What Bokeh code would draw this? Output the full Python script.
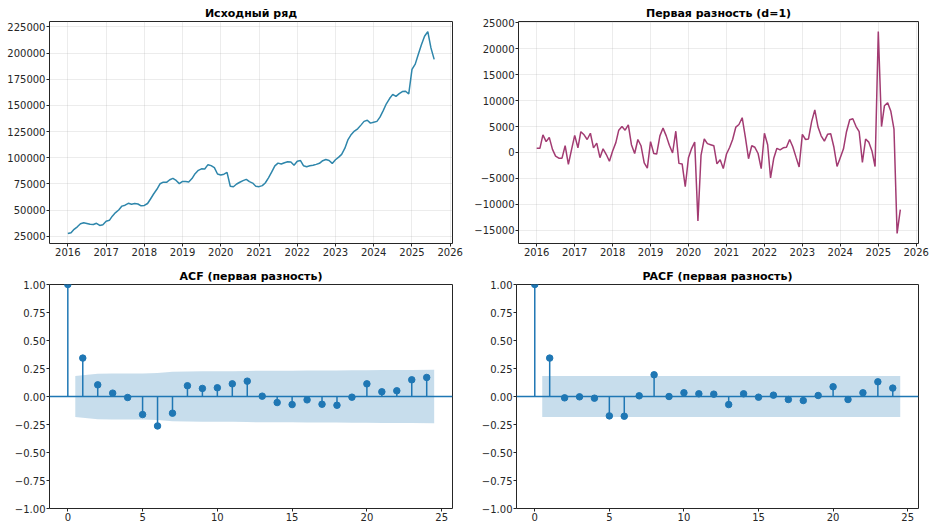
import numpy as np
import pandas as pd
from bokeh.plotting import figure
from bokeh.layouts import column, row
from bokeh.models import Range1d, FixedTicker, DatetimeTickFormatter, CustomJSTickFormatter, Span
from bokeh.embed import file_html
from bokeh.resources import INLINE

# ---------------- data ----------------
start_month = "2016-01-01"
n_months = 116

level = [
    27700, 28400, 31600, 34000, 36900, 37800, 37200, 36500, 36200, 37400, 35300, 36000,
    39300, 40200, 44200, 47600, 50100, 53800, 54700, 56500, 55500, 56200, 55800, 54100,
    54400, 56300, 60600, 65600, 69900, 75200, 76700, 76500, 79000, 80300, 78300, 75300,
    77400, 77200, 76900, 80100, 84800, 88000, 89400, 89300, 93400, 92500, 90500, 84500,
    83500, 84300, 86000, 72800, 72300, 74900, 76600, 78100, 79400, 77200, 75800, 72700,
    72400, 73400, 75900, 80800, 86200, 92300, 94900, 94000, 95300, 96200, 96000, 92900,
    96600, 97300, 92400, 91500, 92300, 92800, 93700, 94700, 97200, 98300, 97400, 94600,
    98100, 100600, 103200, 109200, 117400, 122300, 125500, 127700, 131200, 134800, 135800, 133100,
    134000, 134800, 138800, 145100, 151600, 156600, 160600, 158700, 161300, 163300, 163600, 161000,
    184500, 189500, 198500, 208100, 216100, 220600, 205000, 194000,
]

diff1 = [
    800, 800, 3400, 2100, 2900, 600, -700, -1100, -1100, 1300, -2300, 500,
    3300, 900, 4000, 3400, 2500, 3700, 900, 1800, -1000, 700, -400, -1700,
    300, 1900, 4300, 5000, 4300, 5300, 1500, -200, 2500, 1300, -2000, -3000,
    2100, -200, -300, 3200, 4700, 3200, 1400, -100, 4100, -2100, -2200, -6600,
    -1000, 800, 2000, -13200, -500, 2600, 1700, 1500, 1300, -2200, -1400, -3100,
    -300, 1000, 2500, 4900, 5400, 6700, 3000, -1200, 1300, 1000, -200, -3100,
    3700, 1500, -4900, -1100, 800, 500, 900, 1000, 2500, 1100, -900, -2800,
    3500, 2500, 2600, 6000, 8200, 4900, 3200, 2200, 3500, 3600, 1000, -2700,
    -1000, 700, 4000, 6300, 6500, 5000, 4000, -1900, 2600, 2000, 300, -2700,
    23300, 5000, 9000, 9600, 8000, 4500, -15600, -11000,
]

lags = list(range(25))
acf_vals = [1.0, 0.343, 0.104, 0.030, -0.009, -0.161, -0.263, -0.149, 0.096, 0.072,
            0.078, 0.113, 0.137, 0.003, -0.054, -0.072, -0.030, -0.069, -0.078, -0.006,
            0.113, 0.042, 0.051, 0.149, 0.170]
acf_band = [0.183, 0.203, 0.205, 0.205, 0.205, 0.209, 0.220, 0.223, 0.225, 0.226,
            0.226, 0.228, 0.231, 0.231, 0.231, 0.232, 0.232, 0.233, 0.234, 0.234,
            0.236, 0.236, 0.236, 0.239]
pacf_vals = [1.0, 0.343, -0.012, -0.003, -0.015, -0.173, -0.176, 0.006, 0.194, 0.000,
             0.033, 0.024, 0.021, -0.072, 0.024, -0.006, 0.012, -0.027, -0.036, 0.009,
             0.087, -0.027, 0.033, 0.131, 0.075]
pacf_band = [0.182] * 24

year_ticks = list(range(2016, 2027))
level_ticks = list(range(25000, 225001, 25000))
diff_ticks = list(range(-15000, 25001, 5000))
lag_ticks = [0, 5, 10, 15, 20, 25]
corr_ticks = [-1.0, -0.75, -0.5, -0.25, 0.0, 0.25, 0.5, 0.75, 1.0]

titles = ["Исходный ряд", "Первая разность (d=1)", "ACF (первая разность)", "PACF (первая разность)"]

# ---------------- style ----------------
FONT = "DejaVu Sans"
DARK = "#262626"
C_LEVEL = "#2E86AB"
C_DIFF = "#A23B72"
C0 = "#1f77b4"

int_fmt = CustomJSTickFormatter(code="""
    return (tick < 0 ? '\u2212' : '') + Math.abs(tick).toFixed(0);
""")
dec_fmt = CustomJSTickFormatter(code="""
    return (tick < -1e-9 ? '\u2212' : '') + Math.abs(tick).toFixed(2);
""")
year_fmt = DatetimeTickFormatter(
    years="%Y", months="%Y", days="%Y", hours="%Y", minutes="%Y",
    hourmin="%Y", seconds="%Y", minsec="%Y", milliseconds="%Y", microseconds="%Y")


def make_fig(title, w, h, bl, br, bt, bb, x_range, y_range, grid):
    p = figure(width=w, height=h, x_range=x_range, y_range=y_range,
               output_backend="svg", toolbar_location=None,
               min_border_left=bl, min_border_right=br, min_border_top=bt, min_border_bottom=bb)
    p.title.text = title
    p.title.align = "center"
    p.title.text_font = FONT
    p.title.text_font_size = "11px"
    p.title.text_font_style = "bold"
    p.title.text_color = "#000000"
    p.title.standoff = 4
    p.outline_line_color = DARK
    p.outline_line_width = 1
    p.background_fill_color = "white"
    p.border_fill_color = "white"
    for ax in (p.xaxis[0], p.yaxis[0]):
        ax.axis_line_color = None
        ax.major_tick_out = 3
        ax.major_tick_in = 0
        ax.minor_tick_line_color = None
        ax.major_tick_line_color = DARK
        ax.major_label_text_font = FONT
        ax.major_label_text_font_size = "10px"
        ax.major_label_text_color = DARK
        ax.major_label_standoff = 1
    if grid:
        for g in (p.xgrid[0], p.ygrid[0]):
            g.grid_line_color = "#b0b0b0"
            g.grid_line_alpha = 0.3
            g.grid_line_width = 0.8
    else:
        p.xgrid.visible = False
        p.ygrid.visible = False
    return p


dates = pd.date_range(start_month, periods=n_months, freq="MS")
span = dates[-1] - dates[0]
x_dt_range = lambda: Range1d(dates[0] - span * 0.05, dates[-1] + span * 0.05)
year_ms = [pd.Timestamp(f"{y}-01-01").value // 10**6 for y in year_ticks]


def pad_range(vals):
    lo, hi = min(vals), max(vals)
    d = (hi - lo) * 0.05
    return Range1d(lo - d, hi + d)


W1, W2 = 471, 464
H1, H2 = 262, 268

# top-left: level
p1 = make_fig(titles[0], W1, H1, 49, 19, 21, 19, x_dt_range(), pad_range(level), True)
p1.line(dates, level, line_color=C_LEVEL, line_width=1.5)

# top-right: first difference
p2 = make_fig(titles[1], W2, H1, 45, 17, 21, 19, x_dt_range(), pad_range(diff1), True)
p2.line(dates, diff1, line_color=C_DIFF, line_width=1.5)

for p, yt in ((p1, level_ticks), (p2, diff_ticks)):
    p.xaxis[0].ticker = FixedTicker(ticks=year_ms)
    p.xaxis[0].formatter = year_fmt
    p.yaxis[0].ticker = FixedTicker(ticks=yt)
    p.yaxis[0].formatter = int_fmt


def corr_plot(title, vals, band, w, bl, br):
    xr_lo, xr_hi = min(lags), max(lags) + 0.5
    dx = (xr_hi - xr_lo) * 0.05
    p = make_fig(title, w, H2, bl, br, 22, 22, Range1d(xr_lo - dx, xr_hi + dx), Range1d(-1, 1), False)
    bx = [float(l) for l in lags[1:]]
    bx[0] -= 0.5
    bx[-1] += 0.5
    p.varea(x=bx, y1=[-b for b in band], y2=band, fill_color=C0, fill_alpha=0.25)
    p.segment(x0=lags, y0=[0] * len(lags), x1=lags, y1=vals, line_color=C0, line_width=1.5)
    p.add_layout(Span(location=0, dimension="width", line_color=C0, line_width=1.5))
    p.scatter(lags, vals, size=6.5, fill_color=C0, line_color=C0)
    p.xaxis[0].ticker = FixedTicker(ticks=lag_ticks)
    p.yaxis[0].ticker = FixedTicker(ticks=corr_ticks)
    p.yaxis[0].formatter = dec_fmt
    return p


p3 = corr_plot(titles[2], acf_vals, acf_band, W1, 49, 19)
p4 = corr_plot(titles[3], pacf_vals, pacf_band, W2, 45, 17)

layout = column(row(p1, p2), row(p3, p4))
open("out.html", "w").write(file_html(layout, INLINE))
